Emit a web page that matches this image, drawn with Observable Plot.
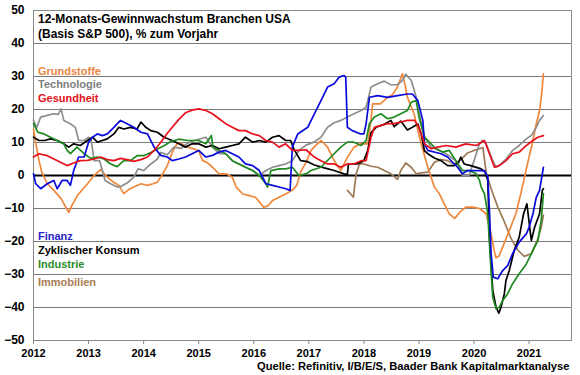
<!DOCTYPE html>
<html><head><meta charset="utf-8">
<script src="https://cdn.jsdelivr.net/npm/d3@7"></script>
<script src="https://cdn.jsdelivr.net/npm/@observablehq/plot@0.6"></script>
<style>body{margin:0;background:#fff}</style>
</head><body><div id="chart"></div>
<script>
const years = [2012,2013,2014,2015,2016,2017,2018,2019,2020,2021];
const yTicks = [-50,-40,-30,-20,-10,0,10,20,30,40,50];
const titleLines = ["12-Monats-Gewinnwachstum Branchen USA", "(Basis S&P 500), % zum Vorjahr"];
const caption = "Quelle: Refinitiv, I/B/E/S, Baader Bank Kapitalmarktanalyse";
const seriesNames = ["Grundstoffe","Technologie","Gesundheit","Finanz","Zyklischer Konsum","Industrie","Immobilien"];
const lineColors = ["#F0883C","#8E8E8E","#E8101A","#0A0ADC","#000000","#1F8A1F","#9C7A55"];
const labelColors = ["#E9853E","#7F7F7F","#E3101A","#2424C8","#000000","#2B8A2B","#A87D55"];
const drawOrder = ["Immobilien","Grundstoffe","Technologie","Zyklischer Konsum","Industrie","Finanz","Gesundheit"];

const grundstoffe = [[2012.0,14],[2012.05,9],[2012.1,4.5],[2012.15,1],[2012.25,-2.5],[2012.37,-4.5],[2012.5,-7],[2012.6,-10],[2012.64,-11.2],[2012.7,-9],[2012.8,-6],[2012.9,-4],[2012.98,-2.5],[2013.1,0],[2013.22,1.8],[2013.34,-0.5],[2013.45,-2],[2013.55,-3],[2013.64,-5.5],[2013.75,-4],[2013.82,-3.5],[2013.95,-2.5],[2014.07,-3],[2014.17,-2.5],[2014.25,-2],[2014.33,0],[2014.43,3],[2014.52,7],[2014.62,10],[2014.7,9.5],[2014.8,8.6],[2014.92,8],[2015.0,7.5],[2015.07,4.5],[2015.15,4],[2015.25,2.5],[2015.37,0.5],[2015.5,0.5],[2015.61,-0.5],[2015.68,-3.5],[2015.8,-5.6],[2015.92,-6.1],[2016.03,-6.6],[2016.1,-8],[2016.18,-9.6],[2016.25,-9.3],[2016.34,-7.6],[2016.46,-6.6],[2016.58,-5.6],[2016.7,-4.5],[2016.78,-3],[2016.85,1],[2016.95,4],[2017.04,7.6],[2017.15,9.5],[2017.22,10.6],[2017.34,8.6],[2017.46,4.5],[2017.58,1.5],[2017.7,5.5],[2017.82,8.6],[2017.94,9.6],[2018.07,9.6],[2018.13,17],[2018.16,21.7],[2018.3,21.7],[2018.43,23.7],[2018.52,24.5],[2018.61,26.8],[2018.7,30.8],[2018.74,28],[2018.79,23.7],[2018.91,18.7],[2019.04,9.6],[2019.16,2.5],[2019.28,-3.5],[2019.37,-5.5],[2019.43,-7.6],[2019.55,-11.6],[2019.65,-13],[2019.75,-11],[2019.85,-9.6],[2019.98,-9.6],[2020.1,-10],[2020.22,-11.6],[2020.3,-17],[2020.37,-23],[2020.4,-24.9],[2020.45,-24.5],[2020.52,-21.7],[2020.64,-16.7],[2020.76,-11.6],[2020.85,-5.5],[2020.95,2],[2021.07,10.6],[2021.13,15.6],[2021.19,19.7],[2021.23,25],[2021.26,30.8]];
const technologie = [[2012.0,16.7],[2012.06,14.6],[2012.13,17.7],[2012.25,18.2],[2012.37,18.7],[2012.45,18.5],[2012.5,20.2],[2012.55,16.7],[2012.67,15.7],[2012.76,14.6],[2012.82,10.6],[2012.92,10.6],[2013.0,11.6],[2013.05,10.6],[2013.1,4.5],[2013.2,4.5],[2013.3,-1.5],[2013.4,-2.5],[2013.52,-3.5],[2013.6,-3.2],[2013.7,-2.3],[2013.82,-0.5],[2013.9,2],[2014.0,1.5],[2014.13,3.5],[2014.25,5],[2014.31,7],[2014.43,6.3],[2014.55,8.6],[2014.68,8.2],[2014.8,9.8],[2014.92,10.6],[2015.0,11],[2015.13,11.6],[2015.25,8.6],[2015.37,6.6],[2015.49,6.6],[2015.61,4.5],[2015.73,3.5],[2015.85,2.5],[2015.98,1.5],[2016.1,0],[2016.22,1.5],[2016.34,2.5],[2016.46,3],[2016.58,3.5],[2016.7,4.5],[2016.82,7.6],[2016.95,9.2],[2017.1,10.2],[2017.22,11.6],[2017.34,14.6],[2017.46,16],[2017.58,16.7],[2017.7,17.7],[2017.82,18.7],[2017.95,19.7],[2018.04,20.7],[2018.13,26.8],[2018.25,27.8],[2018.37,28.6],[2018.49,27.5],[2018.61,27.5],[2018.7,28.8],[2018.76,30.7],[2018.86,28.8],[2018.95,23.7],[2019.02,17.7],[2019.1,11.6],[2019.22,8.6],[2019.34,7.8],[2019.49,6.6],[2019.67,4.5],[2019.79,0],[2019.91,0],[2020.0,4.5],[2020.1,9.6],[2020.15,10.6],[2020.22,9.6],[2020.34,4.5],[2020.4,2.5],[2020.49,3.5],[2020.58,5],[2020.7,7.6],[2020.82,9.1],[2020.95,11.1],[2021.04,12.1],[2021.13,14.6],[2021.19,16.7],[2021.26,18.2]];
const gesundheit = [[2012.0,5.6],[2012.1,6.6],[2012.25,6],[2012.37,5],[2012.49,4],[2012.61,3],[2012.73,3.8],[2012.85,4.5],[2012.98,4.6],[2013.1,5],[2013.22,5.6],[2013.34,4.8],[2013.46,4.5],[2013.58,5.2],[2013.7,4.8],[2013.82,4.3],[2013.95,4.8],[2014.07,5.6],[2014.19,7.6],[2014.31,10],[2014.43,12.8],[2014.52,14.6],[2014.64,17],[2014.76,19],[2014.88,19.8],[2015.0,20.2],[2015.13,19.7],[2015.25,18.7],[2015.37,17.2],[2015.49,15.7],[2015.61,14.6],[2015.73,13.6],[2015.85,13.6],[2015.98,12.6],[2016.1,12.1],[2016.22,10.6],[2016.34,10.1],[2016.46,8.6],[2016.58,9.6],[2016.7,7.6],[2016.82,7.6],[2016.95,7.8],[2017.1,5.6],[2017.22,4.5],[2017.34,3.5],[2017.46,3.5],[2017.58,2.5],[2017.7,3.5],[2017.82,3.5],[2017.95,4.5],[2018.04,4.5],[2018.13,11.6],[2018.19,14.6],[2018.31,15.2],[2018.43,15.7],[2018.55,15.7],[2018.67,16.2],[2018.79,16.7],[2018.92,16.7],[2019.0,14.6],[2019.1,9.6],[2019.22,8.1],[2019.34,8.6],[2019.49,9.1],[2019.67,8.6],[2019.85,9.6],[2020.04,9.1],[2020.19,10.6],[2020.28,6.6],[2020.37,2.5],[2020.46,3],[2020.58,4.5],[2020.7,6.6],[2020.82,7.1],[2020.95,9.1],[2021.07,10.6],[2021.16,11.6],[2021.26,12.1]];
const finanz = [[2012.0,0.5],[2012.04,-2.5],[2012.13,-4],[2012.25,-2.5],[2012.37,-1.5],[2012.43,-4],[2012.52,-1.5],[2012.61,-1.5],[2012.67,-3],[2012.73,1.5],[2012.82,5.6],[2012.92,5.6],[2013.0,10.1],[2013.07,11.6],[2013.16,12.6],[2013.25,12.1],[2013.34,12.6],[2013.46,14.6],[2013.58,16.7],[2013.7,15.7],[2013.82,14.6],[2013.95,13.1],[2014.07,12.6],[2014.19,8.6],[2014.31,6.1],[2014.43,5.6],[2014.52,4.5],[2014.64,5],[2014.76,5.6],[2014.88,6.6],[2015.0,7.6],[2015.13,5.6],[2015.25,6.1],[2015.37,7.1],[2015.49,7.6],[2015.61,6.6],[2015.73,5.6],[2015.85,3.5],[2015.98,3],[2016.1,1.5],[2016.22,-2.5],[2016.34,-3],[2016.46,-3.5],[2016.58,-4],[2016.66,-4.5],[2016.7,8.6],[2016.8,12.6],[2016.98,14.6],[2017.1,18.7],[2017.22,22.7],[2017.34,26.8],[2017.46,27.8],[2017.55,29.8],[2017.64,30.3],[2017.67,29.8],[2017.7,14.6],[2017.79,13.6],[2017.94,12.6],[2018.0,12.6],[2018.04,15.6],[2018.1,23.7],[2018.25,24.2],[2018.43,23.7],[2018.61,24.2],[2018.79,24.7],[2018.88,24.7],[2018.98,22.7],[2019.07,16.7],[2019.1,9.6],[2019.16,7.6],[2019.4,6.6],[2019.52,5.6],[2019.7,2.5],[2019.79,0.5],[2019.88,1.5],[2020.0,1.5],[2020.19,1.5],[2020.25,-0.5],[2020.28,-10.6],[2020.31,-23.7],[2020.35,-30.8],[2020.43,-31.3],[2020.52,-28.8],[2020.61,-27.3],[2020.7,-23.7],[2020.82,-20.2],[2020.95,-17.7],[2021.0,-15.7],[2021.07,-11.6],[2021.13,-6.6],[2021.19,-4.5],[2021.26,2.5]];
const zyklischerKonsum = [[2012.0,11.6],[2012.1,10.6],[2012.2,10.6],[2012.31,11.1],[2012.43,10.6],[2012.55,9.6],[2012.64,8.6],[2012.73,9.6],[2012.85,9.1],[2012.98,10.6],[2013.07,11.6],[2013.16,10.1],[2013.25,10.6],[2013.34,11.1],[2013.46,12.6],[2013.55,14.6],[2013.64,14.1],[2013.76,14.6],[2013.88,14.1],[2013.95,16.2],[2014.04,14.6],[2014.13,13.6],[2014.25,13.1],[2014.37,11.6],[2014.46,11],[2014.52,10.6],[2014.64,9.6],[2014.76,8.6],[2014.88,9.6],[2015.0,9.6],[2015.13,8.6],[2015.25,9.1],[2015.37,8.1],[2015.49,8.6],[2015.61,9.1],[2015.73,9.6],[2015.85,11.6],[2015.98,10.1],[2016.1,10.6],[2016.22,10.1],[2016.34,11.6],[2016.46,12.1],[2016.58,10.6],[2016.67,10.6],[2016.73,8],[2016.85,4.5],[2016.98,4.2],[2017.1,3.2],[2017.28,2.3],[2017.46,1.5],[2017.64,0.5],[2017.7,0.3],[2017.72,3.5],[2017.88,3.5],[2018.0,4.5],[2018.07,7.6],[2018.13,13],[2018.22,14.6],[2018.37,15.5],[2018.49,16.7],[2018.55,14.8],[2018.67,16.5],[2018.79,13.8],[2018.88,14.6],[2018.98,15.6],[2019.04,12.6],[2019.1,7.5],[2019.16,6.6],[2019.28,5.3],[2019.4,4.5],[2019.52,3],[2019.64,3],[2019.72,4],[2019.76,5.6],[2019.82,3.5],[2019.94,3],[2020.13,2],[2020.2,1],[2020.25,-1.5],[2020.28,-18.7],[2020.34,-34.8],[2020.4,-39.9],[2020.45,-41.7],[2020.49,-39.9],[2020.55,-35.9],[2020.58,-31.8],[2020.64,-28.8],[2020.73,-22.7],[2020.82,-18.7],[2020.9,-11.6],[2020.96,-8.6],[2021.04,-19.7],[2021.1,-15.7],[2021.19,-11.6],[2021.24,-4.5],[2021.26,-4]];
const industrie = [[2012.0,15.7],[2012.08,13.1],[2012.19,12.6],[2012.31,11.6],[2012.43,10.6],[2012.55,9.6],[2012.61,7.6],[2012.67,6.6],[2012.79,8.6],[2012.92,6.6],[2013.04,5.2],[2013.16,5.6],[2013.28,5],[2013.4,3.5],[2013.52,2.7],[2013.64,4.5],[2013.76,4.5],[2013.88,6],[2014.0,6],[2014.13,7],[2014.25,8],[2014.37,9],[2014.49,10.3],[2014.64,11],[2014.8,10.6],[2015.0,10.6],[2015.13,9.6],[2015.23,12.1],[2015.26,8.6],[2015.37,7.6],[2015.49,6.6],[2015.61,4.5],[2015.73,3.5],[2015.85,2.5],[2015.98,1.5],[2016.1,0],[2016.22,-2.5],[2016.25,-3.5],[2016.31,1.5],[2016.46,2],[2016.58,2],[2016.7,2.5],[2016.82,0],[2016.95,0.5],[2017.04,1.5],[2017.22,2.5],[2017.4,5.6],[2017.58,8.6],[2017.7,10.1],[2017.82,10.1],[2017.95,9.1],[2018.04,10.6],[2018.1,15.7],[2018.19,17.7],[2018.31,18.7],[2018.43,17.2],[2018.55,17.7],[2018.67,18.7],[2018.79,19.7],[2018.86,22.2],[2018.95,22.7],[2019.0,17.7],[2019.1,11.6],[2019.22,9.6],[2019.31,8.1],[2019.43,7.1],[2019.55,7.6],[2019.67,4.5],[2019.79,1.5],[2019.91,1.5],[2020.04,0.5],[2020.1,-1.5],[2020.13,-3.5],[2020.19,-5.6],[2020.25,-11.6],[2020.29,-23.7],[2020.34,-36.9],[2020.4,-40.4],[2020.46,-39.9],[2020.52,-37.9],[2020.61,-35.9],[2020.7,-32.8],[2020.82,-29.8],[2020.95,-26.8],[2021.07,-22.7],[2021.16,-19.7],[2021.22,-13.6],[2021.26,-5.5]];
const immobilien = [[2017.7,-4.5],[2017.76,-5.6],[2017.81,-6.6],[2017.83,-3.5],[2017.86,0.5],[2017.92,3.5],[2018.0,3.5],[2018.13,2.8],[2018.25,2.5],[2018.37,1.5],[2018.49,0.5],[2018.61,-1.2],[2018.67,1.5],[2018.76,3.8],[2018.86,2.5],[2018.95,0.5],[2019.04,0.8],[2019.16,1],[2019.28,4],[2019.4,4.8],[2019.52,4.5],[2019.64,3.5],[2019.76,4.8],[2019.88,6.8],[2020.0,7.6],[2020.1,8.1],[2020.16,8.5],[2020.22,1],[2020.31,-4],[2020.43,-9.5],[2020.55,-14],[2020.67,-19],[2020.79,-22.5],[2020.91,-24.5],[2021.04,-23.7],[2021.16,-19.2],[2021.22,-15.7],[2021.26,-12]];

const seriesData = {"Grundstoffe":grundstoffe,"Technologie":technologie,"Gesundheit":gesundheit,"Finanz":finanz,"Zyklischer Konsum":zyklischerKonsum,"Industrie":industrie,"Immobilien":immobilien};
const table = drawOrder.flatMap(name => seriesData[name].map(([t, v]) => ({name, t, v})));

const font = "'Liberation Sans', Arial, sans-serif";
// legend label baselines (px below top of frame)
const labelOffsets = [64, 77.5, 91.5, 229, 243, 257.3, 275];

const labelMarks = seriesNames.map((name, i) => Plot.text([name], {
  frameAnchor: "top-left", dx: 4.5, dy: labelOffsets[i], lineAnchor: "bottom", textAnchor: "start",
  fill: labelColors[i], fontSize: 11, fontWeight: "bold"
}));

const chart = Plot.plot({
  width: 580, height: 375,
  marginLeft: 33, marginRight: 9, marginTop: 10, marginBottom: 35,
  style: {fontFamily: font, background: "#fff", color: "#000", overflow: "visible"},
  x: {type: "linear", domain: [2012, 2021.77]},
  y: {domain: [-50, 50]},
  color: {domain: seriesNames, range: lineColors},
  marks: [
    Plot.ruleY(yTicks.filter(d => d !== 0 && d !== 50 && d !== -50), {stroke: "#7a7a7a", strokeWidth: 1}),
    Plot.frame({stroke: "#8a8a8a", strokeWidth: 1}),
    Plot.ruleY([0], {stroke: "#000", strokeWidth: 2}),
    Plot.line(table, {x: "t", y: "v", z: "name", stroke: "name", strokeWidth: 1.7}),
    Plot.axisX({ticks: years, tickFormat: "d", tickSize: 4, tickPadding: 5, label: null, fontSize: 11, fontWeight: "bold", stroke: "#8a8a8a", fill: "#000"}),
    Plot.axisY({ticks: yTicks, tickSize: 0, tickPadding: 9, label: null, fontSize: 12, fontWeight: "bold", fill: "#000"}),
    Plot.text([titleLines[0]], {frameAnchor: "top-left", dx: 4.5, dy: 12.7, lineAnchor: "bottom", textAnchor: "start", fontSize: 12, fontWeight: "bold", fill: "#000"}),
    Plot.text([titleLines[1]], {frameAnchor: "top-left", dx: 4.5, dy: 27.7, lineAnchor: "bottom", textAnchor: "start", fontSize: 12, fontWeight: "bold", fill: "#000"}),
    ...labelMarks,
    Plot.text([caption], {frameAnchor: "bottom-right", dx: -2, dy: 29, lineAnchor: "bottom", textAnchor: "end", fontSize: 11.2, fontWeight: "bold", fill: "#000"})
  ]
});
document.getElementById("chart").appendChild(chart);
</script>
</body></html>
